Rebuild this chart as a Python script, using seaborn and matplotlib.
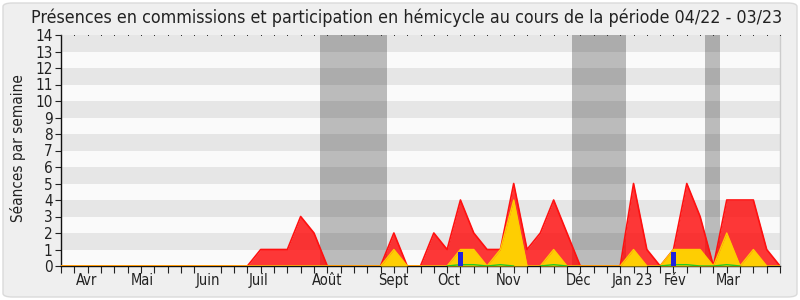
import numpy as np
import pandas as pd
import matplotlib
matplotlib.use("Agg")
import matplotlib.pyplot as plt
import seaborn as sns
from matplotlib.patches import FancyBboxPatch

# ---- data (weekly, 04/22 - 03/23) ----
weeks = list(range(55))
commissions = [0, 0, 0, 0, 0, 0, 0, 0, 0, 0, 0, 0, 0, 0, 0, 1, 1, 1, 3, 2,
               0, 0, 0, 0, 0, 2, 0, 0, 2, 1, 4, 2, 1, 1, 5, 1, 2, 4, 2, 0,
               0, 0, 0, 5, 1, 0, 1, 5, 3, 0, 4, 4, 4, 1, 0]
hemicycle = [0, 0, 0, 0, 0, 0, 0, 0, 0, 0, 0, 0, 0, 0, 0, 0, 0, 0, 0, 0,
             0, 0, 0, 0, 0, 1, 0, 0, 0, 0, 1, 1, 0, 1, 4, 0, 0, 1, 0, 0,
             0, 0, 0, 1, 0, 0, 1, 1, 1, 0, 2, 0, 1, 0, 0]
interventions = [0, 0, 0, 0, 0, 0, 0, 0, 0, 0, 0, 0, 0, 0, 0, 0, 0, 0, 0, 0,
                 0, 0, 0, 0, 0, 0, 0, 0, 0, 0, 0.08, 0.08, 0, 0.08, 0, 0, 0, 0.08, 0, 0,
                 0, 0, 0, 0, 0, 0, 0.08, 0.08, 0, 0, 0.08, 0, 0, 0, 0]
questions_weeks = [30, 46]
questions = [0.85, 0.85]
vacances = [(19.43, 24.5), (38.38, 42.43), (48.39, 49.51)]
month_labels = ["Avr", "Mai", "Juin", "Juil", "Août", "Sept", "Oct", "Nov",
                "Déc", "Jan 23", "Fév", "Mar"]
month_pos = [1.95, 6.08, 11.0, 14.85, 19.95, 24.98, 29.1, 33.6, 38.9, 42.9, 46.1, 50.1]
title = "Présences en commissions et participation en hémicycle au cours de la période 04/22 - 03/23"
ylabel = "Séances par semaine"

df = pd.DataFrame({"week": weeks, "commissions": commissions,
                   "hemicycle": hemicycle, "interventions": interventions})
# show the green series only around its non-zero weeks
g = np.array(interventions, dtype=float)
near = np.zeros(len(g), dtype=bool)
for i in range(len(g)):
    if g[i] > 0:
        near[max(0, i - 1):i + 2] = True
df["interventions_vis"] = np.where(near, g, np.nan)

sns.set_style("white")
plt.rcParams["font.family"] = ["DejaVu Sans"]
plt.rcParams["font.stretch"] = "condensed"

fig = plt.figure(figsize=(8, 3), dpi=100, facecolor="white")
bg = FancyBboxPatch((3/800, 3/300), 794/800, 294/300,
                    boxstyle="round,pad=0,rounding_size=0.012",
                    transform=fig.transFigure, facecolor="#efefef",
                    edgecolor="#dadada", linewidth=1, zorder=-10)
fig.patches.append(bg)

ax = fig.add_axes([61/800, 34/300, 719/800, 231/300])
ax.set_zorder(1)
ax.set_facecolor("#fafafa")
ax.set_xlim(0, 54)
ax.set_ylim(0, 14)

for k in range(14):
    ax.axhspan(k, k + 1, color="#fafafa" if k % 2 == 0 else "#e6e6e6", lw=0, zorder=0)
for a, b in vacances:
    ax.axvspan(a, b, color="black", alpha=0.25, lw=0, zorder=1)

ax.fill_between(df["week"], df["commissions"], color="#ff0000", alpha=0.78, lw=0, zorder=2)
sns.lineplot(data=df, x="week", y="commissions", color="#ff1010", lw=1.2, ax=ax, zorder=3)
ax.fill_between(df["week"], df["hemicycle"], color="#ffd700", alpha=0.95, lw=0, zorder=4)
sns.lineplot(data=df, x="week", y="hemicycle", color="#ffcc00", lw=1.0, ax=ax, zorder=5)
ax.plot(df["week"], df["interventions_vis"], color="#22cc22", lw=1.0, zorder=6)
ax.bar(questions_weeks, questions, width=0.42, color="#2222dd", edgecolor="none",
       linewidth=0, zorder=7)

ax.set_xlabel("")
ax.set_ylabel("")

ax.set_yticks(range(15))
ax.set_yticklabels([str(v) for v in range(15)], fontsize=11, color="#222222")
ax.set_xticks(month_pos)
ax.set_xticklabels(month_labels, fontsize=10.5, color="#222222")
ax.set_xticks(weeks, minor=True)
ax.tick_params(axis="x", which="major", bottom=True, length=0, pad=5)
ax.tick_params(axis="x", which="minor", bottom=True, length=5, width=0.8,
               color="#222222", direction="out")
ax.tick_params(axis="y", which="major", left=True, length=4, width=0.8,
               color="#222222", direction="out", pad=2)

for side in ["left", "bottom"]:
    ax.spines[side].set_color("#111111")
    ax.spines[side].set_linewidth(1)
ax.spines["right"].set_color("#cccccc")
ax.spines["right"].set_linewidth(1)
ax.spines["top"].set_visible(False)
for w in weeks:
    ax.plot([w], [14], marker="s", markersize=0.7, markeredgewidth=0,
            color="#333333", clip_on=False, zorder=9)

fig.text(407/800, 1 - 18/300, title, ha="center", va="center", fontsize=12.8,
         color="#222222")
fig.text(18/800, 1 - 148/300, ylabel, ha="center", va="center", rotation=90,
         fontsize=11, color="#222222")

fig.savefig("out.png", dpi=100, facecolor="white")
